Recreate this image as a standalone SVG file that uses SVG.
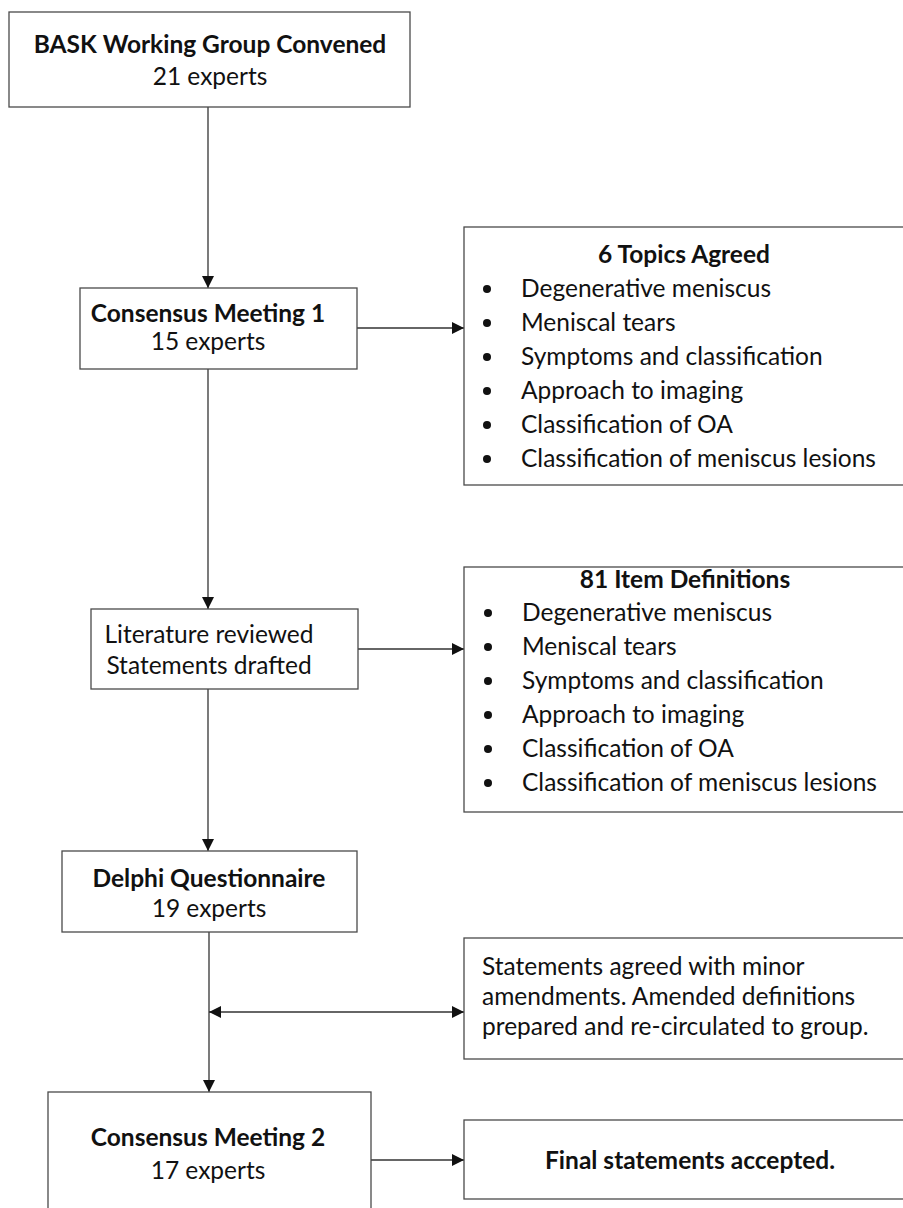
<svg xmlns="http://www.w3.org/2000/svg" width="903" height="1208" viewBox="0 0 903 1208">
<style>
.box{fill:#fff;stroke:#4a4a4a;stroke-width:1.3}
.t{font-family:Lato,"Open Sans","Liberation Sans",sans-serif;font-size:24.5px;fill:#111}
.b{font-weight:bold}
.c{text-anchor:middle}
.ln{stroke:#333;stroke-width:1.3;fill:none}
.dot{fill:#111}
</style>
<defs>
<marker id="ah" viewBox="0 0 12 12" refX="12" refY="6" markerWidth="12" markerHeight="12" markerUnits="userSpaceOnUse" orient="auto-start-reverse">
<path d="M0,0 L12,6 L0,12 Z" fill="#111"/>
</marker>
</defs>
<rect width="903" height="1208" fill="#fff"/>
<g id="connectors">
<line class="ln" x1="208" y1="107" x2="208" y2="288" marker-end="url(#ah)"/>
<line class="ln" x1="208" y1="369" x2="208" y2="609" marker-end="url(#ah)"/>
<line class="ln" x1="208" y1="689" x2="208" y2="851" marker-end="url(#ah)"/>
<line class="ln" x1="209" y1="932" x2="209" y2="1092" marker-end="url(#ah)"/>
<line class="ln" x1="357" y1="328" x2="464" y2="328" marker-end="url(#ah)"/>
<line class="ln" x1="358" y1="649" x2="464" y2="649" marker-end="url(#ah)"/>
<line class="ln" x1="209" y1="1012" x2="464" y2="1012" marker-start="url(#ah)" marker-end="url(#ah)"/>
<line class="ln" x1="371" y1="1160" x2="464" y2="1160" marker-end="url(#ah)"/>
</g>
<g id="n-bask">
<rect class="box" x="9" y="12" width="401" height="95"/>
<text class="t b c" x="210" y="53">BASK Working Group Convened</text>
<text class="t c" x="210" y="85">21 experts</text>
</g>
<g id="n-cm1">
<rect class="box" x="80" y="288" width="277" height="81"/>
<text class="t b c" x="208" y="322">Consensus Meeting 1</text>
<text class="t c" x="208" y="350">15 experts</text>
</g>
<g id="n-topics">
<rect class="box" x="464" y="227" width="445" height="258"/>
<text class="t b c" x="684" y="263">6 Topics Agreed</text>
<circle class="dot" cx="487" cy="289" r="4"/><text class="t" x="521" y="297">Degenerative meniscus</text>
<circle class="dot" cx="487" cy="323" r="4"/><text class="t" x="521" y="331">Meniscal tears</text>
<circle class="dot" cx="487" cy="357" r="4"/><text class="t" x="521" y="365">Symptoms and classification</text>
<circle class="dot" cx="487" cy="391" r="4"/><text class="t" x="521" y="399">Approach to imaging</text>
<circle class="dot" cx="487" cy="425" r="4"/><text class="t" x="521" y="433">Classification of OA</text>
<circle class="dot" cx="487" cy="459" r="4"/><text class="t" x="521" y="467">Classification of meniscus lesions</text>
</g>
<g id="n-lit">
<rect class="box" x="91" y="609" width="267" height="80"/>
<text class="t c" x="209" y="643">Literature reviewed</text>
<text class="t c" x="209" y="674">Statements drafted</text>
</g>
<g id="n-items">
<rect class="box" x="464" y="567" width="445" height="245"/>
<text class="t b c" x="685" y="588">81 Item Definitions</text>
<circle class="dot" cx="488" cy="613" r="4"/><text class="t" x="522" y="621">Degenerative meniscus</text>
<circle class="dot" cx="488" cy="647" r="4"/><text class="t" x="522" y="655">Meniscal tears</text>
<circle class="dot" cx="488" cy="681" r="4"/><text class="t" x="522" y="689">Symptoms and classification</text>
<circle class="dot" cx="488" cy="715" r="4"/><text class="t" x="522" y="723">Approach to imaging</text>
<circle class="dot" cx="488" cy="749" r="4"/><text class="t" x="522" y="757">Classification of OA</text>
<circle class="dot" cx="488" cy="783" r="4"/><text class="t" x="522" y="791">Classification of meniscus lesions</text>
</g>
<g id="n-delphi">
<rect class="box" x="62" y="851" width="295" height="81"/>
<text class="t b c" x="209" y="887">Delphi Questionnaire</text>
<text class="t c" x="209" y="917">19 experts</text>
</g>
<g id="n-statements">
<rect class="box" x="464" y="938" width="445" height="121"/>
<text class="t" x="482" y="975">Statements agreed with minor</text>
<text class="t" x="482" y="1005">amendments. Amended definitions</text>
<text class="t" x="482" y="1035">prepared and re-circulated to group.</text>
</g>
<g id="n-cm2">
<rect class="box" x="48" y="1092" width="323" height="130"/>
<text class="t b c" x="208" y="1146">Consensus Meeting 2</text>
<text class="t c" x="208" y="1179">17 experts</text>
</g>
<g id="n-final">
<rect class="box" x="464" y="1120" width="445" height="79"/>
<text class="t b c" x="690" y="1169">Final statements accepted.</text>
</g>
</svg>
